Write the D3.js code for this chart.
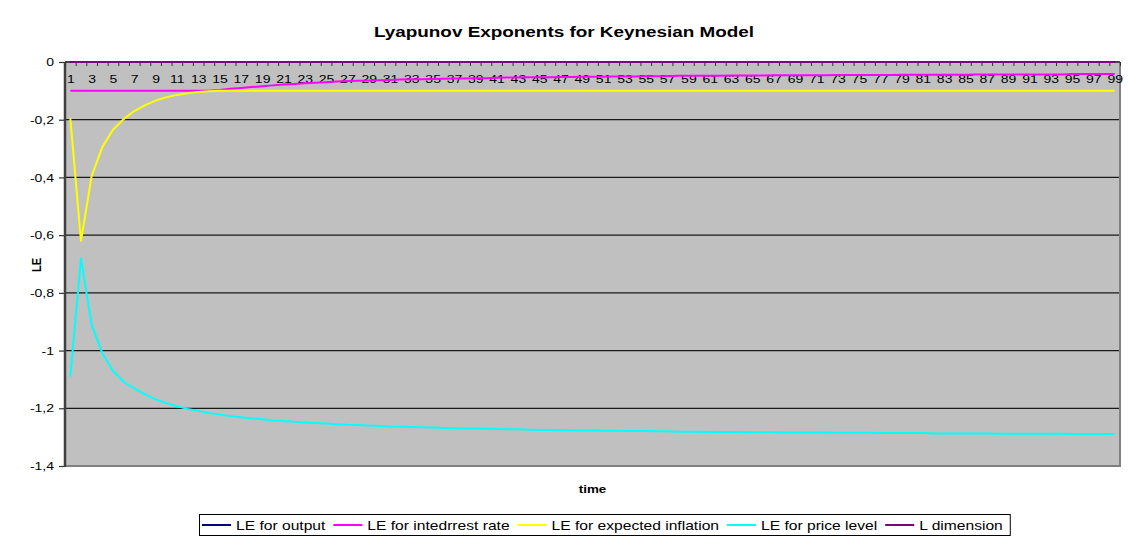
<!DOCTYPE html>
<html>
<head>
<meta charset="utf-8">
<script src="https://cdn.jsdelivr.net/npm/d3@7"></script>
<style>
  body { margin: 0; background: #fff; }
  svg { display: block; font-family: "Liberation Sans", Arial, sans-serif; }
</style>
</head>
<body>
<div id="rootDiv"></div>
<script>
const categories = d3.range(1, 100)

const seriesNames = ["LE for output", "LE for intedrrest rate", "LE for expected inflation", "LE for price level", "L dimension"]
const seriesColors = ["#000080", "#ff00ff", "#ffff00", "#00ffff", "#800080"]

const leOutput = [
    0, 0, 0, 0, 0, 0, 0, 0, 0, 0,
    0, 0, 0, 0, 0, 0, 0, 0, 0, 0,
    0, 0, 0, 0, 0, 0, 0, 0, 0, 0,
    0, 0, 0, 0, 0, 0, 0, 0, 0, 0,
    0, 0, 0, 0, 0, 0, 0, 0, 0, 0,
    0, 0, 0, 0, 0, 0, 0, 0, 0, 0,
    0, 0, 0, 0, 0, 0, 0, 0, 0, 0,
    0, 0, 0, 0, 0, 0, 0, 0, 0, 0,
    0, 0, 0, 0, 0, 0, 0, 0, 0, 0,
    0, 0, 0, 0, 0, 0, 0, 0, 0
]

const leInterest = [
    -0.1, -0.1, -0.1, -0.1, -0.1, -0.1, -0.1, -0.1, -0.1, -0.1,
    -0.1, -0.1, -0.1, -0.1, -0.097, -0.093, -0.090, -0.087, -0.084, -0.081,
    -0.078, -0.076, -0.074, -0.072, -0.070, -0.068, -0.066, -0.065, -0.064, -0.063,
    -0.062, -0.061, -0.060, -0.060, -0.059, -0.058, -0.057, -0.057, -0.056, -0.056,
    -0.055, -0.054, -0.054, -0.053, -0.053, -0.053, -0.052, -0.052, -0.051, -0.051,
    -0.051, -0.050, -0.050, -0.050, -0.049, -0.049, -0.049, -0.048, -0.048, -0.048,
    -0.048, -0.048, -0.047, -0.047, -0.047, -0.047, -0.046, -0.046, -0.046, -0.046,
    -0.046, -0.046, -0.045, -0.045, -0.045, -0.045, -0.045, -0.045, -0.044, -0.044,
    -0.044, -0.044, -0.044, -0.044, -0.044, -0.043, -0.043, -0.043, -0.043, -0.043,
    -0.043, -0.043, -0.043, -0.043, -0.042, -0.042, -0.042, -0.042, -0.042
]

const leInflation = [
    -0.195, -0.62, -0.395, -0.295, -0.235, -0.198, -0.170, -0.150, -0.134, -0.122,
    -0.114, -0.108, -0.104, -0.101, -0.1, -0.1, -0.1, -0.1, -0.1, -0.1,
    -0.1, -0.1, -0.1, -0.1, -0.1, -0.1, -0.1, -0.1, -0.1, -0.1,
    -0.1, -0.1, -0.1, -0.1, -0.1, -0.1, -0.1, -0.1, -0.1, -0.1,
    -0.1, -0.1, -0.1, -0.1, -0.1, -0.1, -0.1, -0.1, -0.1, -0.1,
    -0.1, -0.1, -0.1, -0.1, -0.1, -0.1, -0.1, -0.1, -0.1, -0.1,
    -0.1, -0.1, -0.1, -0.1, -0.1, -0.1, -0.1, -0.1, -0.1, -0.1,
    -0.1, -0.1, -0.1, -0.1, -0.1, -0.1, -0.1, -0.1, -0.1, -0.1,
    -0.1, -0.1, -0.1, -0.1, -0.1, -0.1, -0.1, -0.1, -0.1, -0.1,
    -0.1, -0.1, -0.1, -0.1, -0.1, -0.1, -0.1, -0.1, -0.1
]

const lePrice = [
    -1.090, -0.680, -0.911, -1.009, -1.070, -1.108, -1.131, -1.152, -1.169, -1.182,
    -1.193, -1.202, -1.209, -1.216, -1.222, -1.227, -1.231, -1.235, -1.238, -1.242,
    -1.244, -1.247, -1.249, -1.251, -1.253, -1.255, -1.257, -1.258, -1.260, -1.261,
    -1.263, -1.264, -1.265, -1.266, -1.267, -1.268, -1.269, -1.270, -1.270, -1.271,
    -1.272, -1.273, -1.273, -1.274, -1.275, -1.275, -1.276, -1.276, -1.277, -1.277,
    -1.278, -1.278, -1.279, -1.279, -1.279, -1.280, -1.280, -1.281, -1.281, -1.281,
    -1.282, -1.282, -1.282, -1.282, -1.283, -1.283, -1.283, -1.284, -1.284, -1.284,
    -1.284, -1.284, -1.285, -1.285, -1.285, -1.285, -1.286, -1.286, -1.286, -1.286,
    -1.286, -1.287, -1.287, -1.287, -1.287, -1.287, -1.287, -1.288, -1.288, -1.288,
    -1.288, -1.288, -1.288, -1.288, -1.289, -1.289, -1.289, -1.289, -1.289
]

const lDimension = [
    0, 0, 0, 0, 0, 0, 0, 0, 0, 0,
    0, 0, 0, 0, 0, 0, 0, 0, 0, 0,
    0, 0, 0, 0, 0, 0, 0, 0, 0, 0,
    0, 0, 0, 0, 0, 0, 0, 0, 0, 0,
    0, 0, 0, 0, 0, 0, 0, 0, 0, 0,
    0, 0, 0, 0, 0, 0, 0, 0, 0, 0,
    0, 0, 0, 0, 0, 0, 0, 0, 0, 0,
    0, 0, 0, 0, 0, 0, 0, 0, 0, 0,
    0, 0, 0, 0, 0, 0, 0, 0, 0, 0,
    0, 0, 0, 0, 0, 0, 0, 0, 0
]

const yTicks = [0, -0.2, -0.4, -0.6, -0.8, -1, -1.2, -1.4]
const xLabelTicks = categories.filter(c => c % 2 === 1)

const allSeries = [leOutput, leInterest, leInflation, lePrice, lDimension]

const width = 1129
const height = 540
const margin = { top: 62, right: 9, bottom: 74, left: 65 }
// the original picture is stretched sideways, so text is too
const SX = 1.22

const svg = d3.select(document.getElementById("rootDiv"))
    .append("svg")
    .attr("width", width)
    .attr("height", height)

const x = d3.scaleLinear()
    .domain([0.5, categories.length + 0.5])
    .range([margin.left, width - margin.right])

const y = d3.scaleLinear()
    .domain([-1.4, 0])
    .range([height - margin.bottom, margin.top])

// plot background
svg.append("rect")
    .attr("x", x.range()[0])
    .attr("y", y.range()[1])
    .attr("width", x.range()[1] - x.range()[0])
    .attr("height", y.range()[0] - y.range()[1])
    .attr("fill", "#c0c0c0")

// gridlines
svg.selectAll("line.grid")
    .data(yTicks)
    .enter()
    .append("line")
    .attr("class", "grid")
    .attr("x1", x.range()[0])
    .attr("x2", x.range()[1])
    .attr("y1", d => y(d))
    .attr("y2", d => y(d))
    .attr("stroke", "#1a1a1a")
    .attr("stroke-width", 1.2)

// right + bottom border of plot area
svg.append("path")
    .attr("d", `M${x.range()[1]},${y.range()[1]}V${y.range()[0]}H${x.range()[0]}`)
    .attr("fill", "none")
    .attr("stroke", "#808080")
    .attr("stroke-width", 2)

const fmt = d => String(d).replace(".", ",")

// Y-axis
const yAxis = svg.append("g")
    .attr("transform", `translate(${margin.left},0)`)
    .call(d3.axisLeft(y).tickValues(yTicks).tickSize(6).tickPadding(3).tickFormat(fmt))
yAxis.select(".domain").remove()
yAxis.selectAll("line").attr("stroke", "#333").attr("stroke-width", 1.2)
yAxis.selectAll("text")
    .attr("font-size", 11.5)
    .attr("fill", "#000")
    .attr("transform", `scale(${SX},1)`)

svg.append("line")
    .attr("x1", margin.left).attr("x2", margin.left)
    .attr("y1", y.range()[1]).attr("y2", y.range()[0] + 1)
    .attr("stroke", "#404040")
    .attr("stroke-width", 2.5)

// X-axis sits at y = 0 (top of plot)
const xTickAxis = svg.append("g")
    .attr("transform", `translate(0,${y(0)})`)
    .call(d3.axisBottom(x).tickValues(d3.range(0.5, categories.length + 1, 1)).tickSize(4).tickFormat(""))
xTickAxis.select(".domain").remove()
xTickAxis.selectAll("line").attr("stroke", "#333")

const xLabelAxis = svg.append("g")
    .attr("transform", `translate(0,${y(0)})`)
    .call(d3.axisBottom(x).tickValues(xLabelTicks).tickSize(0).tickPadding(13).tickFormat(d => d))
xLabelAxis.select(".domain").remove()
xLabelAxis.selectAll("text")
    .attr("font-size", 11.5)
    .attr("fill", "#000")
    .attr("transform", `scale(${SX},1)`)

svg.append("line")
    .attr("x1", x.range()[0]).attr("x2", x.range()[1])
    .attr("y1", y(0)).attr("y2", y(0))
    .attr("stroke", "#333")
    .attr("stroke-width", 1.5)

// Draw lines
const line = d3.line()
    .x((_d, i) => x(categories[i]))
    .y(d => y(d))

svg.selectAll("path.series")
    .data(allSeries)
    .enter()
    .append("path")
    .attr("class", "series")
    .attr("d", d => line(d))
    .attr("fill", "none")
    .attr("stroke", (_d, i) => seriesColors[i])
    .attr("stroke-width", 2)
    .attr("stroke-linejoin", "round")

// titles
svg.append("text")
    .attr("transform", `translate(564,37) scale(${SX},1)`)
    .attr("text-anchor", "middle")
    .attr("font-size", 15.5)
    .attr("font-weight", "bold")
    .text("Lyapunov Exponents for Keynesian Model")

svg.append("text")
    .attr("transform", `translate(41,265) rotate(-90) scale(1,${SX})`)
    .attr("text-anchor", "middle")
    .attr("font-size", 11)
    .attr("font-weight", "bold")
    .text("LE")

svg.append("text")
    .attr("transform", `translate(${(x.range()[0] + x.range()[1]) / 2},493) scale(${SX},1)`)
    .attr("text-anchor", "middle")
    .attr("font-size", 11)
    .attr("font-weight", "bold")
    .text("time")

// legend
const legend = svg.append("g")
const legendBox = legend.append("rect")
    .attr("fill", "#fff")
    .attr("stroke", "#000")
    .attr("stroke-width", 1)
let lx = 202
const ly = 525
seriesNames.forEach((name, i) => {
    legend.append("line")
        .attr("x1", lx).attr("x2", lx + 29)
        .attr("y1", ly).attr("y2", ly)
        .attr("stroke", seriesColors[i])
        .attr("stroke-width", 2)
    const t = legend.append("text")
        .attr("transform", `translate(${lx + 34},${ly + 4.5}) scale(${SX},1)`)
        .attr("font-size", 12.8)
        .attr("fill", "#000")
        .text(name)
    lx += 34 + t.node().getComputedTextLength() * SX + 8
})
legendBox
    .attr("x", 199.5)
    .attr("y", 514.5)
    .attr("width", lx - 200)
    .attr("height", 21)
</script>
</body>
</html>
